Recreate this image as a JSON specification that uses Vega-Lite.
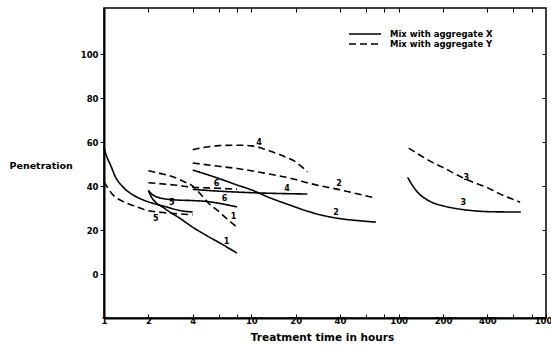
{
  "$schema": "https://vega.github.io/schema/vega-lite/v6.json",
  "width": 442,
  "height": 310,
  "autosize": {"type": "none"},
  "padding": {"left": 104, "top": 8, "right": 5, "bottom": 28},
  "background": "white",
  "config": {
    "view": {"stroke": "black", "strokeWidth": 1.5},
    "axis": {"labelFont": "DejaVu Sans", "labelFontWeight": "bold", "labelFontSize": 8.5, "labelColor": "black", "titleFont": "DejaVu Sans", "titleFontWeight": "bold", "titleColor": "black", "tickColor": "black", "domainColor": "black", "grid": false}
  },
  "datasets": {
    "curves": [
      {"curve": "5X", "mix": "Mix with aggregate X", "t": 1, "p": 57.5},
      {"curve": "5X", "mix": "Mix with aggregate X", "t": 1.05, "p": 53},
      {"curve": "5X", "mix": "Mix with aggregate X", "t": 1.1, "p": 50},
      {"curve": "5X", "mix": "Mix with aggregate X", "t": 1.2, "p": 44},
      {"curve": "5X", "mix": "Mix with aggregate X", "t": 1.35, "p": 39.5},
      {"curve": "5X", "mix": "Mix with aggregate X", "t": 1.57, "p": 36},
      {"curve": "5X", "mix": "Mix with aggregate X", "t": 1.8, "p": 34},
      {"curve": "5X", "mix": "Mix with aggregate X", "t": 2.14, "p": 32.2},
      {"curve": "5X", "mix": "Mix with aggregate X", "t": 2.66, "p": 30.5},
      {"curve": "5X", "mix": "Mix with aggregate X", "t": 3.2, "p": 29},
      {"curve": "5X", "mix": "Mix with aggregate X", "t": 4, "p": 28.2},
      {"curve": "5Y", "mix": "Mix with aggregate Y", "t": 1, "p": 42},
      {"curve": "5Y", "mix": "Mix with aggregate Y", "t": 1.15, "p": 36},
      {"curve": "5Y", "mix": "Mix with aggregate Y", "t": 1.3, "p": 33.5},
      {"curve": "5Y", "mix": "Mix with aggregate Y", "t": 1.6, "p": 31},
      {"curve": "5Y", "mix": "Mix with aggregate Y", "t": 2, "p": 28.8},
      {"curve": "5Y", "mix": "Mix with aggregate Y", "t": 2.5, "p": 28},
      {"curve": "5Y", "mix": "Mix with aggregate Y", "t": 3, "p": 27.5},
      {"curve": "5Y", "mix": "Mix with aggregate Y", "t": 4, "p": 27},
      {"curve": "1X", "mix": "Mix with aggregate X", "t": 2, "p": 38},
      {"curve": "1X", "mix": "Mix with aggregate X", "t": 2.1, "p": 35},
      {"curve": "1X", "mix": "Mix with aggregate X", "t": 2.25, "p": 32.5},
      {"curve": "1X", "mix": "Mix with aggregate X", "t": 2.5, "p": 30.5},
      {"curve": "1X", "mix": "Mix with aggregate X", "t": 2.66, "p": 29.2},
      {"curve": "1X", "mix": "Mix with aggregate X", "t": 3.2, "p": 25.8},
      {"curve": "1X", "mix": "Mix with aggregate X", "t": 4, "p": 21.3},
      {"curve": "1X", "mix": "Mix with aggregate X", "t": 5, "p": 17.4},
      {"curve": "1X", "mix": "Mix with aggregate X", "t": 6.5, "p": 13.1},
      {"curve": "1X", "mix": "Mix with aggregate X", "t": 8, "p": 9.5},
      {"curve": "6X", "mix": "Mix with aggregate X", "t": 2, "p": 38},
      {"curve": "6X", "mix": "Mix with aggregate X", "t": 2.1, "p": 36.5},
      {"curve": "6X", "mix": "Mix with aggregate X", "t": 2.3, "p": 35},
      {"curve": "6X", "mix": "Mix with aggregate X", "t": 2.9, "p": 33.8},
      {"curve": "6X", "mix": "Mix with aggregate X", "t": 4, "p": 33.4},
      {"curve": "6X", "mix": "Mix with aggregate X", "t": 5, "p": 33},
      {"curve": "6X", "mix": "Mix with aggregate X", "t": 6, "p": 32.2},
      {"curve": "6X", "mix": "Mix with aggregate X", "t": 8, "p": 30.5},
      {"curve": "1Y", "mix": "Mix with aggregate Y", "t": 2, "p": 47},
      {"curve": "1Y", "mix": "Mix with aggregate Y", "t": 2.5, "p": 45.5},
      {"curve": "1Y", "mix": "Mix with aggregate Y", "t": 3, "p": 44},
      {"curve": "1Y", "mix": "Mix with aggregate Y", "t": 3.5, "p": 42},
      {"curve": "1Y", "mix": "Mix with aggregate Y", "t": 4, "p": 40},
      {"curve": "1Y", "mix": "Mix with aggregate Y", "t": 4.5, "p": 36.5},
      {"curve": "1Y", "mix": "Mix with aggregate Y", "t": 5, "p": 33},
      {"curve": "1Y", "mix": "Mix with aggregate Y", "t": 6, "p": 28.5},
      {"curve": "1Y", "mix": "Mix with aggregate Y", "t": 7, "p": 24.5},
      {"curve": "1Y", "mix": "Mix with aggregate Y", "t": 8, "p": 21.3},
      {"curve": "6Y", "mix": "Mix with aggregate Y", "t": 2, "p": 41.5},
      {"curve": "6Y", "mix": "Mix with aggregate Y", "t": 3, "p": 40.5},
      {"curve": "6Y", "mix": "Mix with aggregate Y", "t": 4, "p": 39.5},
      {"curve": "6Y", "mix": "Mix with aggregate Y", "t": 6, "p": 39},
      {"curve": "6Y", "mix": "Mix with aggregate Y", "t": 8, "p": 38.5},
      {"curve": "4Y", "mix": "Mix with aggregate Y", "t": 4, "p": 56.5},
      {"curve": "4Y", "mix": "Mix with aggregate Y", "t": 5, "p": 57.8},
      {"curve": "4Y", "mix": "Mix with aggregate Y", "t": 6, "p": 58.4},
      {"curve": "4Y", "mix": "Mix with aggregate Y", "t": 8, "p": 58.6},
      {"curve": "4Y", "mix": "Mix with aggregate Y", "t": 10, "p": 58.3},
      {"curve": "4Y", "mix": "Mix with aggregate Y", "t": 12, "p": 57},
      {"curve": "4Y", "mix": "Mix with aggregate Y", "t": 14, "p": 55.5},
      {"curve": "4Y", "mix": "Mix with aggregate Y", "t": 16, "p": 54},
      {"curve": "4Y", "mix": "Mix with aggregate Y", "t": 20, "p": 51},
      {"curve": "4Y", "mix": "Mix with aggregate Y", "t": 24, "p": 46.5},
      {"curve": "2Y", "mix": "Mix with aggregate Y", "t": 4, "p": 50.5},
      {"curve": "2Y", "mix": "Mix with aggregate Y", "t": 6, "p": 49},
      {"curve": "2Y", "mix": "Mix with aggregate Y", "t": 8, "p": 48},
      {"curve": "2Y", "mix": "Mix with aggregate Y", "t": 12, "p": 46},
      {"curve": "2Y", "mix": "Mix with aggregate Y", "t": 20, "p": 43},
      {"curve": "2Y", "mix": "Mix with aggregate Y", "t": 24, "p": 41.5},
      {"curve": "2Y", "mix": "Mix with aggregate Y", "t": 40, "p": 38.3},
      {"curve": "2Y", "mix": "Mix with aggregate Y", "t": 70, "p": 34.5},
      {"curve": "2X", "mix": "Mix with aggregate X", "t": 4, "p": 47.3},
      {"curve": "2X", "mix": "Mix with aggregate X", "t": 6, "p": 43.5},
      {"curve": "2X", "mix": "Mix with aggregate X", "t": 8, "p": 40.5},
      {"curve": "2X", "mix": "Mix with aggregate X", "t": 10, "p": 38.3},
      {"curve": "2X", "mix": "Mix with aggregate X", "t": 13, "p": 35},
      {"curve": "2X", "mix": "Mix with aggregate X", "t": 18, "p": 31.5},
      {"curve": "2X", "mix": "Mix with aggregate X", "t": 24, "p": 28.6},
      {"curve": "2X", "mix": "Mix with aggregate X", "t": 30, "p": 26.8},
      {"curve": "2X", "mix": "Mix with aggregate X", "t": 40, "p": 25.2},
      {"curve": "2X", "mix": "Mix with aggregate X", "t": 55, "p": 24.2},
      {"curve": "2X", "mix": "Mix with aggregate X", "t": 70, "p": 23.6},
      {"curve": "4X", "mix": "Mix with aggregate X", "t": 4, "p": 38.5},
      {"curve": "4X", "mix": "Mix with aggregate X", "t": 6, "p": 37.7},
      {"curve": "4X", "mix": "Mix with aggregate X", "t": 10, "p": 37},
      {"curve": "4X", "mix": "Mix with aggregate X", "t": 16, "p": 36.6},
      {"curve": "4X", "mix": "Mix with aggregate X", "t": 24, "p": 36.4},
      {"curve": "3Y", "mix": "Mix with aggregate Y", "t": 117, "p": 57.3},
      {"curve": "3Y", "mix": "Mix with aggregate Y", "t": 140, "p": 54},
      {"curve": "3Y", "mix": "Mix with aggregate Y", "t": 167, "p": 51},
      {"curve": "3Y", "mix": "Mix with aggregate Y", "t": 200, "p": 48.5},
      {"curve": "3Y", "mix": "Mix with aggregate Y", "t": 235, "p": 46},
      {"curve": "3Y", "mix": "Mix with aggregate Y", "t": 300, "p": 42.5},
      {"curve": "3Y", "mix": "Mix with aggregate Y", "t": 400, "p": 39.3},
      {"curve": "3Y", "mix": "Mix with aggregate Y", "t": 474, "p": 36.8},
      {"curve": "3Y", "mix": "Mix with aggregate Y", "t": 667, "p": 32.7},
      {"curve": "3X", "mix": "Mix with aggregate X", "t": 115, "p": 44},
      {"curve": "3X", "mix": "Mix with aggregate X", "t": 125, "p": 40},
      {"curve": "3X", "mix": "Mix with aggregate X", "t": 136, "p": 36.8},
      {"curve": "3X", "mix": "Mix with aggregate X", "t": 150, "p": 34.5},
      {"curve": "3X", "mix": "Mix with aggregate X", "t": 167, "p": 32.7},
      {"curve": "3X", "mix": "Mix with aggregate X", "t": 200, "p": 31},
      {"curve": "3X", "mix": "Mix with aggregate X", "t": 235, "p": 30},
      {"curve": "3X", "mix": "Mix with aggregate X", "t": 300, "p": 29},
      {"curve": "3X", "mix": "Mix with aggregate X", "t": 346, "p": 28.6},
      {"curve": "3X", "mix": "Mix with aggregate X", "t": 450, "p": 28.3},
      {"curve": "3X", "mix": "Mix with aggregate X", "t": 675, "p": 28.2}
    ],
    "labels": [
      {"t": 6.78, "p": 14.5, "label": "1"},
      {"t": 7.56, "p": 25.9, "label": "1"},
      {"t": 2.88, "p": 32.5, "label": "5"},
      {"t": 2.25, "p": 25, "label": "5"},
      {"t": 6.57, "p": 34, "label": "6"},
      {"t": 5.8, "p": 40.8, "label": "6"},
      {"t": 11.3, "p": 59.5, "label": "4"},
      {"t": 17.5, "p": 38.6, "label": "4"},
      {"t": 39.3, "p": 40.8, "label": "2"},
      {"t": 37.5, "p": 27.9, "label": "2"},
      {"t": 288, "p": 43.5, "label": "3"},
      {"t": 275, "p": 32.3, "label": "3"}
    ]
  },
  "resolve": {"axis": {"x": "independent", "y": "independent"}},
  "layer": [
    {
      "data": {"name": "curves"},
      "mark": {"type": "line", "stroke": "black", "strokeWidth": 1.6, "interpolate": "monotone"},
      "encoding": {
        "x": {
          "field": "t", "type": "quantitative",
          "scale": {"type": "log", "domain": [1, 1000], "nice": false},
          "axis": {
            "orient": "bottom",
            "title": "Treatment time in hours",
            "titleFontSize": 10.5,
            "titleX": 218, "titleY": 19, "titleAlign": "center", "titleBaseline": "middle",
            "values": [1, 2, 4, 6, 8, 10, 20, 40, 60, 80, 100, 200, 400, 600, 800, 1000],
            "labelExpr": "indexof([6, 8, 60, 80, 600, 800], datum.value) >= 0 ? '' : datum.label",
            "format": "d",
            "labelOverlap": false, "labelFlush": false,
            "tickSize": -4, "labelPadding": 2,
            "domainWidth": 2, "tickWidth": 1
          }
        },
        "y": {
          "field": "p", "type": "quantitative",
          "scale": {"domain": [-20, 121], "nice": false, "zero": false},
          "axis": {
            "orient": "left",
            "title": "Penetration",
            "titleAngle": 0, "titleFontSize": 9.5,
            "titleX": -95, "titleY": 157, "titleAlign": "left", "titleBaseline": "middle",
            "values": [0, 20, 40, 60, 80, 100],
            "tickSize": 4, "labelPadding": 2,
            "domainWidth": 2, "tickWidth": 1
          }
        },
        "detail": {"field": "curve"},
        "strokeDash": {
          "field": "mix", "type": "nominal",
          "scale": {"domain": ["Mix with aggregate X", "Mix with aggregate Y"], "range": [[1, 0], [7, 4]]},
          "legend": {
            "title": null,
            "orient": "none",
            "legendX": 256, "legendY": 21,
            "padding": 0,
            "symbolType": "M-4,0H4",
            "symbolSize": 64,
            "symbolStrokeWidth": 1.5,
            "symbolStrokeColor": "black",
            "labelOffset": 20,
            "rowPadding": 0,
            "labelFont": "DejaVu Sans", "labelFontWeight": "bold", "labelFontSize": 8.5, "labelColor": "black"
          }
        }
      }
    },
    {
      "data": {"name": "labels"},
      "mark": {"type": "text", "font": "DejaVu Sans", "fontWeight": "bold", "fontSize": 8, "color": "black", "baseline": "middle", "align": "center"},
      "encoding": {
        "x": {
          "field": "t", "type": "quantitative",
          "scale": {"type": "log", "domain": [1, 1000], "nice": false},
          "axis": {"orient": "top", "title": null, "labels": false, "domain": false, "values": [2, 4, 6, 8, 10, 20, 40, 60, 80, 100, 200, 400, 600, 800], "tickSize": -4}
        },
        "y": {
          "field": "p", "type": "quantitative",
          "scale": {"domain": [-20, 121], "nice": false, "zero": false},
          "axis": {"orient": "right", "title": null, "labels": false, "domain": false, "values": [0, 20, 40, 60, 80, 100], "tickSize": -4}
        },
        "text": {"field": "label"}
      }
    }
  ]
}
